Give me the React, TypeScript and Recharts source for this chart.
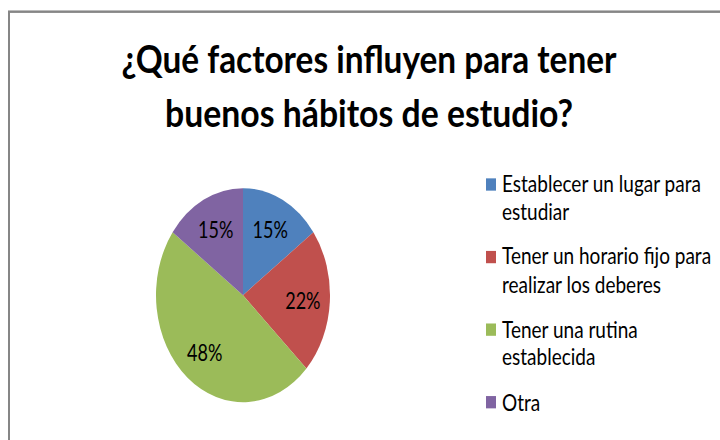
import { PieChart, Pie, Cell, Legend } from "recharts";

// categorías y porcentajes
const categories = [
  "Establecer un lugar para estudiar",
  "Tener un horario fijo para realizar los deberes",
  "Tener una rutina establecida",
  "Otra",
];
const values = [15, 22, 48, 15];
const colors = ["#4F81BD", "#C0504D", "#9BBB59", "#8064A2"];
const titleLines = ["¿Qué factores influyen para tener", "buenos hábitos de estudio?"];
const titleWidths = [495, 408];

const data = categories.map((name, i) => ({ name, value: values[i] }));

// the original image is stretched vertically
const SY = 1.23;
const W = 720;
const H = Math.round(440 / SY);
const FONT = "Lato, 'Open Sans', sans-serif";
const RAD = Math.PI / 180;

function SliceLabel(props: any) {
  const { cx, cy, midAngle, outerRadius, value } = props;
  const r = outerRadius * 0.69;
  const x = cx + r * Math.cos(-midAngle * RAD);
  const y = cy + r * Math.sin(-midAngle * RAD);
  return (
    <text x={x} y={y} fill="#000" fontSize={18} fontFamily={FONT} textAnchor="middle" dominantBaseline="central">
      {`${value}%`}
    </text>
  );
}

function LegendList({ payload }: any) {
  const items = [...(payload || [])].sort(
    (a: any, b: any) => categories.indexOf(a.value) - categories.indexOf(b.value)
  );
  return (
    <div style={{ fontFamily: FONT, fontSize: 19, color: "#000", width: 228 }}>
      {items.map((item: any) => (
        <div key={item.value} style={{ display: "flex", alignItems: "flex-start", marginBottom: 13.7, lineHeight: "22.8px" }}>
          <span style={{ width: 10, height: 10, background: item.color, marginTop: 6.5, marginRight: 6, flex: "none" }} />
          <span style={{ width: 212 }}>{item.value}</span>
        </div>
      ))}
    </div>
  );
}

export default function App() {
  return (
    <div style={{ position: "absolute", left: 0, top: 0, width: W, height: 440, overflow: "hidden", background: "#fff" }}>
      <div style={{ width: W, height: H, transform: `scaleY(${SY})`, transformOrigin: "0 0", position: "relative" }}>
        <PieChart width={W} height={H} margin={{ top: 0, right: 0, bottom: 0, left: 0 }}>
          <rect x={9} y={9.5} width={720} height={400} fill="none" stroke="#868686" strokeWidth={2} />
          {titleLines.map((t, i) => (
            <text
              key={t}
              x={369}
              y={59.3 + i * 44}
              textAnchor="middle"
              fontFamily={FONT}
              fontWeight="bold"
              fontSize={31}
              fill="#000"
              textLength={titleWidths[i]}
              lengthAdjust="spacingAndGlyphs"
            >
              {t}
            </text>
          ))}
          <Pie
            data={data}
            dataKey="value"
            nameKey="name"
            cx={243}
            cy={240}
            outerRadius={87}
            startAngle={90}
            endAngle={-270}
            stroke="none"
            label={SliceLabel}
            labelLine={false}
            isAnimationActive={false}
          >
            {data.map((d, i) => (
              <Cell key={d.name} fill={colors[i]} />
            ))}
          </Pie>
          <Legend
            layout="vertical"
            align="right"
            verticalAlign="top"
            content={LegendList}
            wrapperStyle={{ left: 486, top: 138, width: 228 }}
          />
        </PieChart>
      </div>
    </div>
  );
}
